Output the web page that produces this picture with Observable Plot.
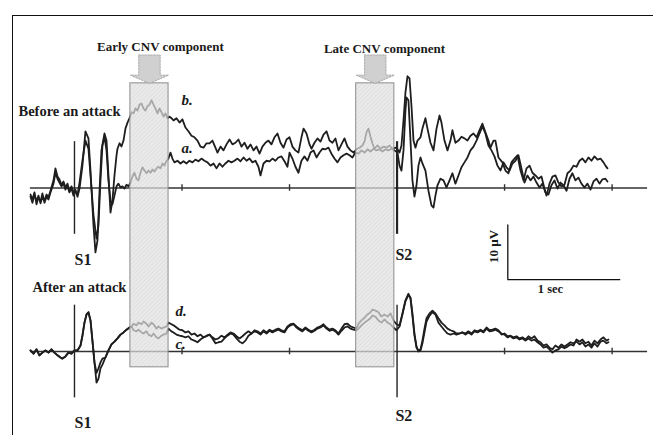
<!DOCTYPE html>
<html><head><meta charset="utf-8">
<script src="https://cdn.jsdelivr.net/npm/d3@7"></script>
<script src="https://cdn.jsdelivr.net/npm/@observablehq/plot@0.6"></script>
<style>
html,body{margin:0;padding:0;background:#fff;}
#wrap{position:relative;width:653px;height:435px;overflow:hidden;}
#frame{position:absolute;left:12px;top:15px;width:650px;height:430px;border-top:1.5px solid #111;border-left:1.5px solid #111;}
#wrap svg{position:absolute;left:0;top:0;}
</style></head>
<body><div id="wrap"><div id="frame"></div></div>
<script>
// ---- data: time in ms relative to S1, amplitude in µV (negative plotted upward) ----
const beforeA = [[-409,1.2],[-391,2.1],[-372,0.8],[-353,3.0],[-335,1.7],[-316,2.5],[-298,1.0],[-279,2.7],[-260,1.6],[-242,2.1],[-223,0.8],[-195,-0.8],[-177,-2.8],[-158,-1.7],[-140,-1.0],[-121,-0.3],[-102,-0.8],[-84,0.3],[-65,-0.3],[-47,0.8],[-28,0.1],[-9,1.4],[9,0.6],[28,1.2],[47,-1.0],[74,-5.0],[102,-8.7],[130,-7.2],[149,-2.3],[177,5.0],[205,9.3],[223,6.9],[242,-1.4],[260,-7.8],[279,-9.4],[298,-6.9],[316,-1.4],[335,2.3],[353,3.0],[372,1.4],[391,-0.3],[409,-0.8],[428,-0.1],[446,-0.3],[465,0.1],[484,-0.6],[502,-0.3],[521,-1.0],[539,-2.1],[558,-2.8],[577,-1.7],[595,-1.4],[614,-2.8],[632,-3.8],[651,-3.2],[670,-2.7],[688,-3.2],[707,-2.8],[725,-3.4],[744,-3.0],[763,-3.6],[781,-3.9],[800,-3.6],[819,-4.5],[837,-4.1],[856,-5.0],[874,-5.4],[893,-6.5],[911,-5.4],[930,-4.7],[958,-5.0],[986,-4.5],[1014,-4.9],[1042,-4.5],[1069,-5.0],[1097,-4.7],[1125,-5.2],[1153,-4.9],[1181,-5.4],[1209,-5.0],[1237,-4.7],[1265,-4.1],[1293,-4.5],[1321,-3.6],[1349,-4.5],[1376,-3.9],[1404,-4.5],[1432,-5.0],[1460,-4.7],[1488,-5.0],[1516,-5.4],[1544,-4.9],[1572,-5.6],[1600,-5.0],[1628,-5.4],[1655,-4.7],[1683,-5.0],[1711,-3.9],[1730,-2.3],[1758,-4.5],[1786,-5.0],[1814,-4.9],[1841,-5.4],[1869,-5.0],[1897,-5.6],[1925,-5.8],[1953,-4.9],[1981,-3.9],[2000,-6.5],[2027,-5.4],[2055,-3.9],[2083,-2.8],[2111,-5.0],[2139,-5.8],[2167,-5.0],[2195,-6.5],[2223,-6.9],[2251,-5.6],[2279,-6.5],[2306,-7.2],[2334,-7.1],[2362,-7.4],[2390,-6.3],[2418,-5.4],[2446,-4.7],[2474,-5.6],[2502,-6.0],[2530,-6.3],[2558,-6.0],[2585,-5.6],[2613,-6.5],[2641,-6.3],[2669,-6.9],[2697,-6.5],[2725,-7.1],[2753,-6.7],[2781,-7.2],[2809,-6.9],[2837,-7.1],[2864,-6.7],[2892,-7.1],[2920,-6.9],[2948,-7.2],[2976,-6.9],[3004,-6.5],[3023,-4.1],[3041,-3.2],[3060,-6.9],[3078,-14.2],[3088,-16.6],[3106,-16.1],[3125,-8.7],[3143,-1.4],[3162,1.6],[3181,-0.5],[3199,-4.1],[3218,-5.6],[3236,-4.5],[3264,-3.2],[3292,0.5],[3320,3.2],[3339,3.6],[3357,1.4],[3376,-0.5],[3404,-1.7],[3432,-1.4],[3460,-0.1],[3488,-1.4],[3515,-2.7],[3543,-0.8],[3571,-2.3],[3599,-3.8],[3627,-4.7],[3655,-5.6],[3683,-6.9],[3711,-7.6],[3739,-8.7],[3767,-10.0],[3794,-11.3],[3822,-10.0],[3850,-7.8],[3878,-6.9],[3906,-5.8],[3934,-4.1],[3962,-3.2],[3990,-4.7],[4018,-3.8],[4046,-3.2],[4073,-4.5],[4101,-5.0],[4129,-6.0],[4157,-3.6],[4185,-1.0],[4213,-2.3],[4241,-1.4],[4269,-2.1],[4297,-1.0],[4325,-0.1],[4352,-0.8],[4380,0.8],[4408,1.2],[4436,-0.5],[4464,-1.4],[4492,0.1],[4520,-1.0],[4548,-0.5],[4576,0.5],[4604,-1.7],[4631,-2.7],[4659,-1.4],[4687,-1.9],[4715,-0.8],[4743,-0.1],[4771,-0.8],[4799,0.3],[4827,-1.2],[4855,-1.7],[4883,-0.8],[4910,-1.6],[4938,-1.7],[4957,-1.2]];

const beforeB = [[-409,1.6],[-391,2.7],[-372,1.2],[-353,2.5],[-335,1.4],[-316,2.8],[-298,1.6],[-279,2.3],[-260,1.2],[-242,1.7],[-223,0.5],[-195,-1.4],[-177,-3.6],[-158,-2.1],[-140,-1.6],[-121,-0.6],[-102,-1.2],[-84,-0.1],[-65,-0.8],[-47,0.5],[-28,-0.3],[-9,0.8],[9,0.3],[28,1.6],[47,0.1],[74,-4.1],[102,-10.4],[130,-9.1],[149,-3.2],[177,6.9],[195,11.8],[214,9.6],[233,0.5],[251,-6.9],[279,-10.0],[298,-8.7],[316,-2.3],[335,4.5],[353,2.3],[372,-2.3],[391,-6.0],[400,-7.2],[419,-8.2],[437,-7.6],[456,-8.7],[474,-10.9],[493,-12.0],[512,-12.8],[530,-13.9],[549,-13.7],[567,-14.6],[586,-14.2],[605,-15.3],[623,-15.5],[642,-14.6],[660,-14.2],[679,-15.0],[698,-15.3],[716,-16.1],[735,-15.3],[753,-14.6],[772,-13.7],[791,-14.6],[809,-13.9],[828,-13.1],[846,-13.7],[865,-12.8],[884,-13.1],[902,-12.8],[921,-12.4],[949,-12.8],[977,-12.0],[1004,-12.6],[1032,-11.1],[1060,-10.4],[1088,-9.6],[1116,-9.3],[1144,-8.7],[1172,-7.6],[1200,-7.4],[1228,-8.2],[1256,-8.2],[1283,-8.7],[1311,-7.4],[1330,-6.5],[1358,-7.6],[1386,-6.9],[1414,-8.0],[1442,-8.9],[1469,-8.0],[1497,-8.3],[1525,-8.9],[1553,-7.6],[1581,-8.3],[1609,-7.2],[1637,-8.0],[1665,-6.9],[1693,-7.6],[1721,-6.3],[1748,-7.6],[1776,-8.3],[1804,-8.7],[1832,-8.0],[1860,-9.3],[1888,-10.0],[1916,-8.3],[1944,-7.4],[1972,-8.9],[2000,-9.3],[2027,-7.6],[2055,-6.9],[2083,-6.5],[2111,-9.3],[2130,-10.9],[2158,-10.0],[2186,-8.0],[2204,-7.2],[2232,-8.3],[2260,-9.1],[2288,-8.5],[2316,-9.8],[2344,-10.4],[2372,-8.7],[2399,-8.3],[2427,-9.1],[2455,-6.9],[2483,-8.0],[2511,-9.1],[2539,-7.6],[2567,-6.9],[2595,-6.5],[2623,-7.1],[2651,-7.4],[2678,-7.8],[2697,-8.5],[2716,-10.2],[2734,-10.9],[2753,-9.4],[2771,-8.2],[2790,-7.2],[2818,-7.8],[2846,-7.2],[2874,-7.6],[2902,-7.4],[2930,-7.8],[2957,-7.2],[2985,-7.4],[3004,-7.1],[3023,-6.5],[3041,-7.8],[3060,-12.4],[3078,-17.5],[3097,-20.5],[3116,-20.1],[3134,-15.1],[3153,-8.7],[3171,-7.4],[3190,-8.7],[3218,-9.3],[3236,-10.9],[3264,-12.8],[3283,-10.9],[3311,-8.3],[3339,-6.9],[3367,-10.9],[3395,-13.3],[3413,-12.0],[3441,-8.7],[3469,-6.9],[3497,-8.7],[3515,-10.6],[3543,-8.3],[3571,-8.7],[3599,-9.4],[3627,-9.1],[3655,-8.7],[3683,-9.6],[3711,-10.0],[3739,-9.3],[3767,-10.6],[3794,-11.8],[3822,-10.2],[3850,-8.7],[3869,-7.4],[3897,-8.7],[3915,-8.7],[3943,-5.6],[3980,-4.7],[4008,-3.2],[4036,-2.7],[4064,-4.7],[4092,-5.4],[4120,-6.0],[4148,-3.2],[4176,-1.4],[4204,-3.6],[4232,-4.1],[4259,-2.8],[4287,-2.3],[4315,-1.7],[4343,-2.1],[4371,0.1],[4390,1.4],[4418,-0.8],[4445,-2.1],[4473,-2.3],[4501,-1.0],[4529,-0.3],[4557,-0.6],[4585,-2.7],[4613,-3.2],[4641,-4.1],[4669,-3.9],[4697,-5.0],[4724,-5.4],[4752,-4.7],[4780,-5.6],[4808,-5.0],[4836,-5.8],[4864,-5.2],[4892,-5.4],[4920,-4.7],[4938,-4.1],[4957,-3.6]];

const afterC = [[-409,-0.2],[-381,0.4],[-353,-0.4],[-326,0.7],[-298,0.2],[-270,-0.2],[-242,0.2],[-214,-0.4],[-186,0.2],[-158,0.7],[-130,1.1],[-112,1.3],[-84,0.9],[-56,0.2],[-28,0.4],[0,-0.2],[28,-0.2],[56,-1.1],[74,-2.9],[93,-5.3],[112,-6.8],[130,-7.2],[149,-5.7],[167,-2.0],[186,2.0],[205,5.7],[223,5.0],[242,3.1],[260,2.4],[288,1.1],[316,-0.2],[344,-1.3],[372,-1.8],[400,-2.4],[428,-3.1],[456,-3.5],[484,-4.0],[512,-4.4],[530,-4.6],[549,-3.9],[577,-3.7],[595,-4.0],[623,-3.5],[642,-3.3],[670,-3.7],[688,-3.1],[716,-2.8],[735,-3.3],[763,-2.6],[781,-2.4],[809,-2.9],[828,-3.1],[856,-3.3],[874,-4.2],[902,-3.7],[921,-3.5],[949,-3.1],[977,-2.9],[1004,-2.8],[1032,-2.6],[1060,-2.8],[1088,-2.2],[1116,-2.0],[1144,-1.7],[1172,-2.2],[1200,-2.6],[1228,-2.8],[1256,-3.1],[1283,-2.4],[1311,-1.5],[1339,-1.7],[1367,-1.8],[1395,-2.4],[1423,-2.9],[1451,-3.3],[1479,-3.1],[1507,-2.4],[1535,-1.8],[1562,-1.5],[1590,-2.0],[1618,-2.9],[1646,-3.3],[1674,-3.7],[1702,-3.5],[1730,-3.1],[1758,-3.7],[1786,-3.3],[1814,-3.8],[1841,-3.5],[1869,-3.8],[1897,-4.0],[1925,-3.7],[1953,-3.5],[1981,-4.4],[2009,-4.8],[2037,-5.0],[2065,-4.4],[2093,-4.0],[2120,-3.7],[2148,-4.2],[2176,-3.8],[2204,-3.5],[2232,-3.8],[2260,-4.2],[2288,-4.4],[2316,-4.8],[2344,-4.2],[2372,-3.8],[2399,-4.0],[2427,-3.7],[2455,-3.1],[2483,-3.8],[2511,-4.4],[2539,-4.6],[2567,-4.2],[2595,-4.0],[2623,-3.9],[2641,-4.2],[2669,-4.8],[2697,-5.3],[2725,-5.7],[2753,-6.1],[2771,-6.6],[2799,-6.4],[2827,-5.7],[2855,-5.3],[2883,-5.9],[2911,-5.3],[2939,-5.0],[2967,-4.4],[2995,-3.9],[3023,-4.6],[3050,-6.8],[3078,-9.2],[3106,-10.4],[3125,-9.9],[3143,-7.0],[3162,-3.3],[3181,-0.9],[3199,0.0],[3218,-0.2],[3236,-1.5],[3255,-3.5],[3274,-5.5],[3302,-6.6],[3329,-7.2],[3357,-6.8],[3385,-5.3],[3413,-4.6],[3441,-3.9],[3469,-3.3],[3497,-3.1],[3525,-3.3],[3553,-3.1],[3581,-3.3],[3608,-3.5],[3636,-3.1],[3664,-3.5],[3692,-3.1],[3720,-3.7],[3748,-3.5],[3776,-3.8],[3804,-3.5],[3832,-4.2],[3860,-3.7],[3887,-3.8],[3915,-4.0],[3943,-3.7],[3971,-3.3],[3999,-3.1],[4027,-2.6],[4055,-2.8],[4083,-2.4],[4111,-2.6],[4139,-2.2],[4166,-2.4],[4194,-2.0],[4222,-2.4],[4250,-2.0],[4278,-2.2],[4306,-1.7],[4334,-1.3],[4362,-0.7],[4390,-0.9],[4418,-0.4],[4445,0.2],[4473,-0.2],[4501,-0.4],[4529,-0.9],[4557,-0.6],[4585,-0.9],[4613,-1.3],[4641,-1.1],[4669,-2.2],[4697,-1.8],[4724,-2.2],[4752,-1.5],[4780,-1.8],[4808,-1.1],[4836,-2.0],[4864,-1.5],[4892,-2.2],[4920,-2.6],[4948,-2.0],[4966,-2.2]];

const afterD = [[-409,-0.2],[-381,0.4],[-353,-0.4],[-326,0.7],[-298,0.2],[-270,-0.2],[-242,0.2],[-214,-0.4],[-186,0.2],[-158,0.7],[-130,1.1],[-112,1.3],[-84,0.9],[-56,0.2],[-28,0.4],[0,-0.2],[28,-0.2],[56,-1.1],[74,-2.9],[93,-5.3],[112,-6.8],[130,-7.2],[149,-5.7],[167,-2.0],[186,2.0],[205,3.9],[223,3.1],[242,2.0],[260,1.3],[288,1.1],[316,-0.2],[344,-1.3],[372,-1.8],[400,-2.4],[428,-3.1],[456,-3.5],[484,-4.0],[512,-4.4],[530,-4.6],[549,-5.1],[577,-4.8],[595,-5.3],[623,-5.0],[642,-5.5],[670,-5.1],[688,-4.6],[716,-5.3],[735,-5.0],[763,-4.2],[781,-4.6],[809,-4.2],[828,-4.4],[856,-4.6],[874,-5.3],[902,-5.0],[921,-4.8],[949,-4.4],[977,-4.0],[1004,-3.9],[1032,-3.5],[1060,-3.7],[1088,-3.1],[1116,-3.3],[1144,-2.8],[1172,-3.1],[1200,-2.6],[1228,-2.9],[1256,-3.1],[1283,-2.6],[1311,-2.2],[1339,-2.4],[1367,-2.9],[1395,-2.6],[1423,-3.1],[1451,-3.5],[1479,-3.3],[1507,-2.8],[1535,-2.4],[1562,-2.8],[1590,-3.3],[1618,-3.7],[1646,-3.3],[1674,-3.9],[1702,-3.7],[1730,-3.3],[1758,-3.9],[1786,-3.5],[1814,-4.0],[1841,-3.7],[1869,-4.0],[1897,-4.2],[1925,-3.9],[1953,-3.7],[1981,-4.6],[2009,-5.0],[2037,-5.1],[2065,-4.6],[2093,-4.2],[2120,-3.9],[2148,-4.4],[2176,-4.0],[2204,-3.7],[2232,-4.0],[2260,-4.4],[2288,-4.6],[2316,-5.0],[2344,-4.4],[2372,-4.0],[2399,-4.2],[2427,-3.9],[2455,-3.3],[2483,-4.2],[2511,-5.0],[2539,-5.1],[2567,-4.6],[2595,-4.4],[2623,-4.2],[2641,-5.1],[2669,-5.7],[2697,-6.2],[2725,-6.8],[2753,-7.2],[2771,-7.7],[2799,-7.5],[2827,-7.2],[2855,-6.4],[2883,-6.8],[2911,-6.4],[2939,-7.0],[2967,-5.7],[2995,-5.0],[3023,-4.8],[3050,-7.0],[3078,-9.4],[3106,-10.6],[3125,-9.7],[3143,-6.6],[3162,-2.9],[3181,-0.7],[3199,-0.2],[3218,-0.4],[3236,-2.0],[3255,-4.2],[3274,-6.1],[3302,-7.0],[3329,-7.5],[3357,-7.0],[3385,-6.1],[3413,-5.3],[3441,-4.8],[3469,-4.2],[3497,-3.9],[3525,-3.7],[3553,-3.3],[3581,-3.3],[3608,-3.5],[3636,-3.3],[3664,-3.7],[3692,-3.3],[3720,-3.9],[3748,-3.7],[3776,-4.0],[3804,-3.7],[3832,-4.4],[3860,-3.9],[3887,-4.0],[3915,-4.2],[3943,-3.9],[3971,-3.1],[3999,-3.3],[4027,-2.8],[4055,-2.9],[4083,-2.6],[4111,-2.8],[4139,-2.4],[4166,-2.6],[4194,-2.2],[4222,-2.8],[4250,-2.4],[4278,-2.8],[4306,-2.0],[4334,-1.7],[4362,-1.1],[4390,-1.3],[4418,-0.7],[4445,-0.4],[4473,-1.1],[4501,-0.7],[4529,-1.3],[4557,-0.9],[4585,-1.3],[4613,-1.7],[4641,-1.5],[4669,-1.8],[4697,-1.3],[4724,-1.7],[4752,-0.9],[4780,-1.3],[4808,-0.7],[4836,-1.5],[4864,-0.9],[4892,-1.8],[4920,-2.0],[4948,-1.5],[4966,-1.7]];

const tickTimes = [1000, 2000, 4000, 5000];           // ms
const stimulusTimes = [0, 3000];                       // S1, S2 (ms)
const stimulusLabels = ["S1", "S2"];
const windowStarts = [520, 2620];                      // ms
const windowEnds = [875, 2975];                        // ms
const windowTitles = ["Early CNV component", "Late CNV component"];
const panelTitles = ["Before an attack", "After an attack"];
const traceLabels = ["a.", "b.", "c.", "d."];
const scaleBarLabels = ["10 µV", "1 sec"];

// ---- layout constants (µV / ms units) ----
const panelOffset = 30;        // after-attack panel drawn 30 µV below
const axisStart = -410, axisEnd = 5330;
const markerHalf = 8.5, tickHalf = 0.6;
const winTop = -19.2, winBottom = 32.9;

const rows = [];
const addTrace = (arr, name, off) => arr.forEach(([t, v]) => rows.push({t, y: v + off, name}));
addTrace(beforeA, "a", 0); addTrace(beforeB, "b", 0);
addTrace(afterC, "c", panelOffset); addTrace(afterD, "d", panelOffset);

const bases = [0, panelOffset];
const tickRows = bases.flatMap(b => tickTimes.map(t => ({t, b})));
const markerRows = bases.flatMap(b => stimulusTimes.map((t, i) => ({t, b, w: i === 1 && b === 0 ? 2.2 : 1.4})));
const windows = windowStarts.map((s, i) => ({start: s, end: windowEnds[i], title: windowTitles[i]}));
const arrowShape = [[0.22,-24.4],[0.78,-24.4],[0.78,-20.7],[1,-20.7],[0.5,winTop],[0,-20.7],[0.22,-20.7],[0.22,-24.4]];
const arrowPts = windows.flatMap((w, i) => arrowShape.map(([f, y]) => ({x: w.start + f * (w.end - w.start), y, i})));

const font = "Liberation Serif, Times New Roman, serif";
const txt = (s, x, y, o = {}) => Plot.text([s], {x: () => x, y: () => y, text: d => d, fontFamily: font, fontWeight: "bold", fill: "#1a1a1a", lineAnchor: "bottom", textAnchor: "start", fontSize: 14.5, ...o});

const chart = Plot.plot({
  width: 653, height: 435,
  marginTop: 0, marginRight: 0, marginBottom: 0, marginLeft: 0,
  x: {domain: [-688, 5385], range: [0, 653], axis: null},
  y: {domain: [-34.4, 45.41], range: [0, 435], axis: null},
  style: {background: "transparent", overflow: "visible"},
  marks: [
    Plot.ruleY(bases, {y: d => d, x1: () => axisStart, x2: () => axisEnd, stroke: "#333", strokeWidth: 1.6}),
    Plot.ruleX(tickRows, {x: "t", y1: d => d.b - tickHalf, y2: d => d.b + tickHalf, stroke: "#333", strokeWidth: 1.4}),
    Plot.line(rows, {x: "t", y: "y", z: "name", stroke: "#1e1e1e", strokeWidth: 1.8, strokeLinejoin: "round"}),
    Plot.ruleX(markerRows, {x: "t", y1: d => d.b - markerHalf, y2: d => d.b + markerHalf, stroke: "#222", strokeWidth: d => d.w}),
    Plot.rect(windows, {x1: "start", x2: "end", y1: () => winTop, y2: () => winBottom, fill: "url(#hatch)", fillOpacity: 0.72, stroke: "#8c8c8c", strokeWidth: 1}),
    Plot.line(arrowPts, {x: "x", y: "y", z: "i", fill: "#d0d0d0", stroke: "#a8a8a8", strokeWidth: 1, strokeDasharray: "1.5,1.5", curve: "linear"}),
    txt(windowTitles[0], 800, -25.2, {textAnchor: "middle", fontSize: 13}),
    txt(windowTitles[1], 2883, -24.7, {textAnchor: "middle", fontSize: 13}),
    txt(panelTitles[0], -521, -13.3),
    txt(panelTitles[1], -391, -11.0 + panelOffset),
    txt(traceLabels[1], 995, -15.3, {fontStyle: "italic", fontSize: 15}),
    txt(traceLabels[0], 995, -6.5, {fontStyle: "italic", fontSize: 15}),
    txt(traceLabels[3], 939, -6.6 + panelOffset, {fontStyle: "italic", fontSize: 15}),
    txt(traceLabels[2], 939, -0.55 + panelOffset, {fontStyle: "italic", fontSize: 15}),
    txt(stimulusLabels[0], 0, 14.2, {fontSize: 16}),
    txt(stimulusLabels[1], 2985, 13.3, {fontSize: 16}),
    txt(stimulusLabels[0], 0, 14.1 + panelOffset, {fontSize: 16}),
    txt(stimulusLabels[1], 2985, 12.7 + panelOffset, {fontSize: 16}),
    // scale bar: 10 µV vertical, 1 s horizontal
    Plot.ruleX([4030], {x: d => d, y1: () => 16.8 - 10, y2: () => 16.8, stroke: "#111", strokeWidth: 1.3}),
    Plot.ruleY([16.8], {y: d => d, x1: () => 4030, x2: () => 4030 + 1050, stroke: "#111", strokeWidth: 1.3}),
    txt(scaleBarLabels[0], 3897, 10.7, {rotate: -90, textAnchor: "middle", lineAnchor: "middle", fontSize: 13}),
    txt(scaleBarLabels[1], 4427, 19.2, {textAnchor: "middle", fontSize: 12.5})
  ]
});

const ns = "http://www.w3.org/2000/svg";
const defs = document.createElementNS(ns, "defs");
defs.innerHTML = '<pattern id="hatch" patternUnits="userSpaceOnUse" width="3" height="3" patternTransform="rotate(45)"><rect width="3" height="3" fill="#e2e2e2"/><line x1="0" y1="0" x2="0" y2="3" stroke="#c9c9c9" stroke-width="1.2"/></pattern>';
chart.insertBefore(defs, chart.firstChild);
document.getElementById("wrap").appendChild(chart);
</script>
</body></html>
